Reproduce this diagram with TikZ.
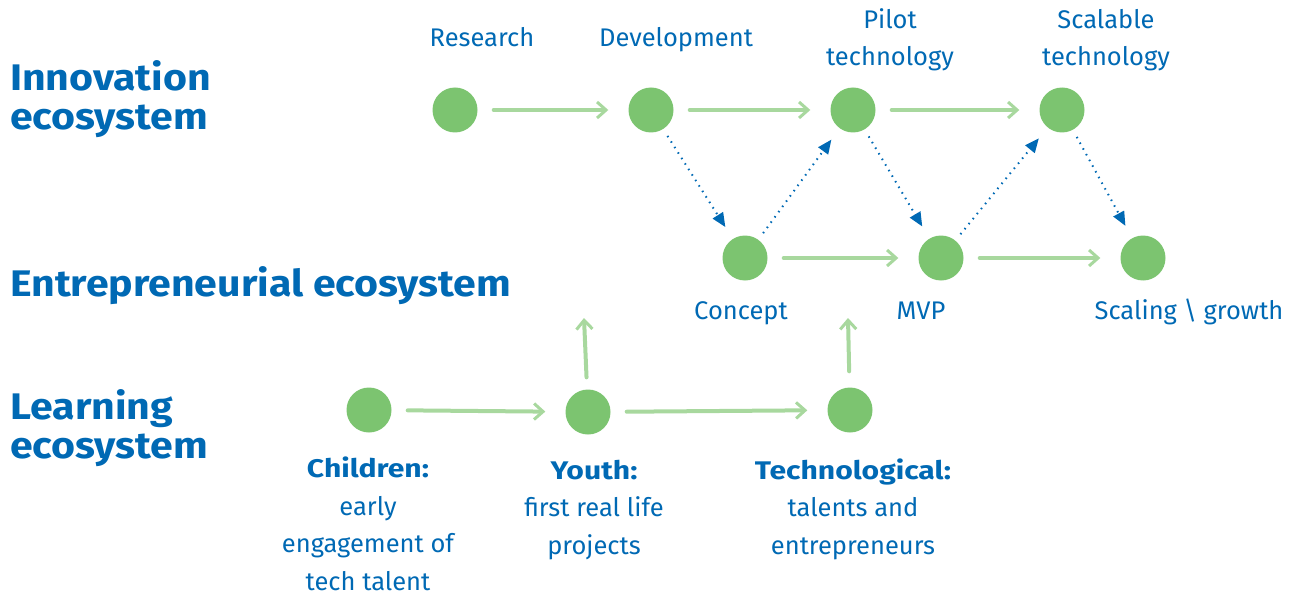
\documentclass[tikz,border=0pt]{standalone}
\usepackage{fontspec}
\setmainfont{Fira Sans}
\newfontfamily\headfont{Fira Sans}[FakeStretch=1.11]
\newfontfamily\tagfont{Fira Sans}[FakeStretch=1.18]
\usetikzlibrary{arrows.meta}

\definecolor{ecoblue}{RGB}{0,105,180}
\definecolor{spotgreen}{RGB}{124,196,112}
\definecolor{flowgreen}{RGB}{168,216,158}

\newcommand{\stagetag}[1]{{\tagfont\bfseries #1}}

\begin{document}
\begin{tikzpicture}[x=1pt,y=-1pt,
  spot/.style={circle, fill=spotgreen, minimum size=45pt, inner sep=0pt},
  flow/.style={draw=flowgreen, line width=4pt, line cap=round,
    -{Straight Barb[length=9pt,width=16pt,line width=3pt]},
    shorten <=16pt, shorten >=20pt},
  hint/.style={draw=ecoblue, line width=2pt, dash pattern=on 1.5pt off 5pt,
    -{Triangle[length=14pt,width=12pt]}, shorten <=8pt, shorten >=14pt},
  heading/.style={text=ecoblue, font=\headfont\fontsize{37}{39}\selectfont\bfseries,
    anchor=base west, align=left, inner sep=0pt},
  stage/.style={text=ecoblue, font=\fontsize{25.5}{37.5}\selectfont,
    anchor=base, align=center, inner sep=0pt}]

\useasboundingbox (0,0) rectangle (1297,596);

% Ecosystem headings (base = last line)
\node[heading] (innov) at (10,130) {Innovation\\ecosystem};
\node[heading] (entre) at (10,296) {Entrepreneurial ecosystem};
\node[heading] (learn) at (10,458) {Learning\\ecosystem};

% Stage spots
\foreach \name/\x/\y in {res/455/110, dev/651/110, pil/853/110, sca/1062/110,
    con/745/258, mvp/941/258, gro/1143/258,
    chi/369/410, you/588/412, tec/850/410} {
  \node[spot] (\name) at (\x,\y) {};
}

% Stage labels
\node[stage] (reslabel) at (482,47) {Research};
\node[stage] (devlabel) at (676,47) {Development};
\node[stage] (pillabel) at (890,66) {Pilot\\technology};
\node[stage] (scalabel) at (1106,66) {Scalable\\technology};
\node[stage] (conlabel) at (741,319) {Concept};
\node[stage] (mvplabel) at (921,319) {MVP};
\node[stage] (grolabel) at (1189,319) {Scaling \textbackslash{} growth};
\node[stage] (chilabel) at (368,590) {\stagetag{Children:}\\early\\engagement of\\tech talent};
\node[stage] (youlabel) at (594,554) {\stagetag{Youth:}\\first real life\\projects};
\node[stage] (teclabel) at (853,554) {\stagetag{Technological:}\\talents and\\entrepreneurs};

% Green flows within each ecosystem
\foreach \a/\b in {res/dev, dev/pil, pil/sca, con/mvp, mvp/gro, chi/you, you/tec} {
  \draw[flow] (\a) -- (\b);
}

% Learning feeds entrepreneurship
\coordinate (youup) at (584,318);
\coordinate (tecup) at (848,318);
\draw[flow, shorten >=0pt, shorten <=12pt] (you) -- (youup);
\draw[flow, shorten >=0pt, shorten <=16pt] (tec) -- (tecup);

% Dotted links between innovation and entrepreneurship
\foreach \a/\b in {dev/con, con/pil, pil/mvp, mvp/sca, sca/gro} {
  \draw[hint] (\a) -- (\b);
}

\end{tikzpicture}
\end{document}
